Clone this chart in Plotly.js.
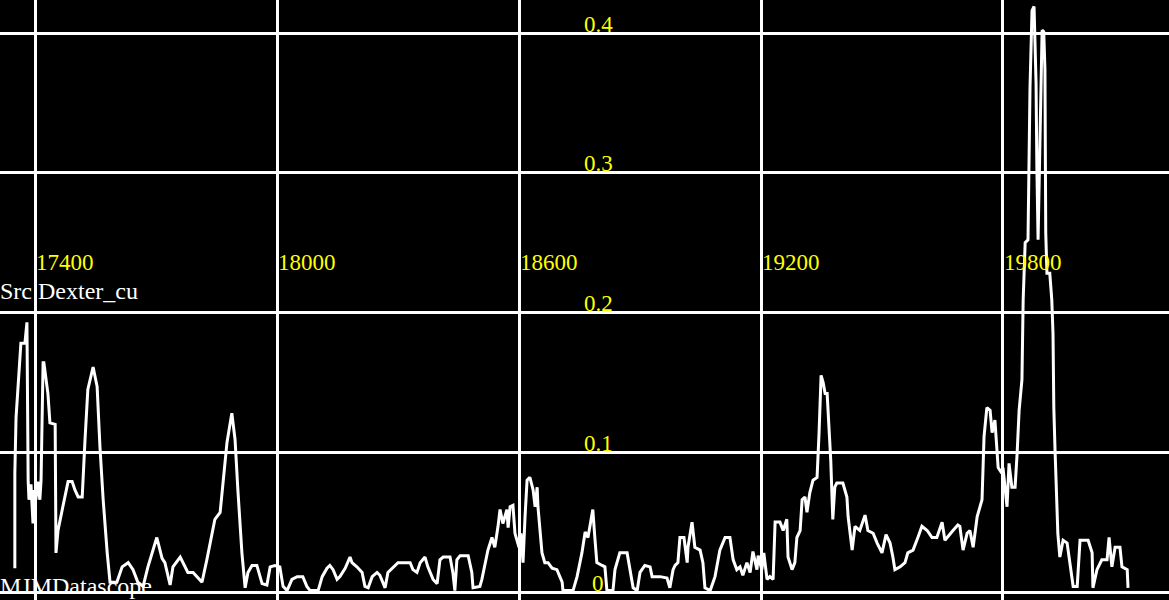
<!DOCTYPE html>
<html>
<head>
<meta charset="utf-8">
<script src="https://cdn.plot.ly/plotly-3.0.1.min.js"></script>
<style>
html,body{margin:0;padding:0;background:#000;}
#chart{width:1169px;height:600px;}
</style>
</head>
<body>
<div id="chart"></div>
<script>
// Tick values / labels
const xTickVals = [17400, 18000, 18600, 19200, 19800];
const xTickText = ['17400', '18000', '18600', '19200', '19800'];
const yTickVals = [0, 0.1, 0.2, 0.3, 0.4];
const yTickText = ['0', '0.1', '0.2', '0.3', '0.4'];

const seriesName = 'Src Dexter_cu';
const footerText = 'MJMDatascope';

// Series values (x = channel, y = value)
const xValues = [
17350,17350,17353,17358,17365,17375,17380,17383,17385,17390,17395,17398,17402,17407,17412,17415,17420,17422,17432,17437,
17450,17452,17457,17469,17482,17492,17499,17507,17517,17524,17531,17544,17554,17561,17569,17579,17586,17603,17616,17631,
17643,17655,17668,17680,17693,17702,17715,17722,17735,17742,17760,17772,17779,17792,17802,17814,17826,17839,17846,17859,
17866,17876,17888,17896,17903,17913,17921,17928,17938,17950,17963,17975,17983,17995,18007,18015,18025,18037,18050,18064,
18074,18082,18102,18112,18124,18131,18139,18149,18156,18169,18181,18186,18198,18211,18218,18226,18236,18248,18255,18263,
18268,18275,18288,18300,18317,18330,18337,18347,18355,18367,18374,18387,18397,18404,18412,18429,18436,18441,18446,18454,
18474,18483,18486,18503,18508,18523,18533,18540,18548,18553,18560,18570,18573,18578,18585,18590,18595,18600,18605,18610,
18615,18620,18627,18635,18640,18645,18647,18657,18664,18672,18682,18694,18707,18709,18734,18744,18756,18764,18771,18778,
18783,18788,18793,18806,18813,18818,18833,18838,18850,18868,18875,18883,18893,18900,18912,18925,18930,18950,18967,18974,
18982,18987,18994,18999,19009,19017,19019,19029,19036,19049,19056,19061,19074,19086,19098,19111,19123,19131,19140,19148,
19155,19165,19173,19180,19190,19193,19202,19207,19215,19222,19230,19235,19247,19255,19264,19267,19277,19284,19289,19297,
19302,19309,19314,19321,19329,19339,19344,19349,19354,19359,19364,19369,19371,19373,19378,19383,19388,19403,19413,19416,
19426,19433,19445,19458,19465,19478,19488,19500,19510,19520,19527,19532,19545,19557,19564,19577,19589,19599,19612,19624,
19636,19649,19656,19669,19676,19688,19693,19701,19711,19718,19726,19736,19748,19753,19760,19768,19773,19780,19785,19788,
19797,19800,19810,19815,19822,19830,19835,19840,19847,19850,19855,19862,19867,19872,19877,19882,19884,19887,19892,19897,
19901,19904,19906,19909,19916,19921,19924,19926,19929,19934,19936,19941,19949,19959,19966,19974,19984,19991,20011,20021,
20023,20033,20045,20058,20063,20070,20078,20090,20095,20108,20110
];
const yValues = [
0.017,0.085,0.125,0.145,0.178,0.178,0.193,0.080,0.066,0.077,0.049,0.073,0.066,0.079,0.066,0.080,0.164,0.164,0.142,0.121,
0.120,0.028,0.044,0.061,0.079,0.079,0.073,0.068,0.068,0.109,0.145,0.161,0.147,0.104,0.066,0.028,0.007,0.007,0.018,0.021,
0.016,0.007,0.004,0.018,0.030,0.039,0.024,0.021,0.005,0.018,0.025,0.018,0.014,0.014,0.011,0.007,0.023,0.042,0.052,0.057,
0.080,0.107,0.128,0.109,0.073,0.028,0.003,0.014,0.019,0.019,0.006,0.005,0.018,0.019,0.018,0.004,0.001,0.009,0.011,0.011,
0.004,0.001,0.001,0.011,0.017,0.019,0.016,0.009,0.011,0.017,0.025,0.021,0.018,0.014,0.004,0.003,0.011,0.014,0.012,0.007,
0.003,0.014,0.018,0.021,0.021,0.021,0.016,0.014,0.021,0.025,0.018,0.009,0.006,0.023,0.025,0.025,0.014,0.001,0.023,0.026,
0.026,0.014,0.003,0.004,0.009,0.030,0.039,0.032,0.047,0.059,0.049,0.059,0.046,0.061,0.062,0.042,0.037,0.032,0.042,0.021,
0.054,0.080,0.082,0.073,0.061,0.075,0.061,0.028,0.021,0.021,0.017,0.016,0.007,0.001,0.001,0.011,0.028,0.043,0.039,0.050,
0.059,0.039,0.021,0.019,0.018,0.001,0.001,0.016,0.028,0.028,0.016,0.003,0.001,0.014,0.019,0.018,0.011,0.011,0.010,0.003,
0.016,0.019,0.021,0.039,0.039,0.021,0.032,0.050,0.032,0.030,0.021,0.003,0.001,0.011,0.030,0.039,0.039,0.023,0.016,0.018,
0.012,0.021,0.014,0.029,0.016,0.026,0.016,0.028,0.009,0.011,0.009,0.050,0.050,0.044,0.052,0.025,0.016,0.021,0.039,0.044,
0.066,0.068,0.057,0.071,0.080,0.082,0.114,0.155,0.150,0.142,0.142,0.111,0.107,0.094,0.052,0.075,0.078,0.078,0.068,0.054,
0.030,0.047,0.044,0.055,0.044,0.042,0.035,0.028,0.041,0.035,0.025,0.016,0.018,0.021,0.028,0.030,0.039,0.047,0.044,0.039,
0.039,0.050,0.037,0.042,0.044,0.048,0.047,0.030,0.042,0.044,0.032,0.054,0.066,0.111,0.132,0.130,0.114,0.123,0.102,0.089,
0.085,0.089,0.061,0.092,0.075,0.075,0.099,0.130,0.152,0.209,0.250,0.252,0.361,0.416,0.419,0.364,0.304,0.252,0.328,0.402,
0.401,0.374,0.257,0.228,0.228,0.209,0.185,0.132,0.102,0.066,0.042,0.025,0.037,0.035,0.021,0.004,0.004,0.037,0.037,0.028,
0.003,0.016,0.023,0.023,0.039,0.018,0.032,0.032,0.018,0.016,0.003
];

const serif = '"Liberation Serif", "Times New Roman", serif';
const labelFont = {family: serif, size: 23, color: '#ffff00'};
const textFont = {family: serif, size: 24, color: '#ffffff'};

const annotations = [];
xTickVals.forEach((v, i) => {
  annotations.push({
    x: v, xref: 'x', y: 0.5633, yref: 'paper',
    text: xTickText[i], showarrow: false,
    xanchor: 'left', yanchor: 'middle', xshift: -1,
    font: labelFont
  });
});
yTickVals.forEach((v, i) => {
  annotations.push({
    x: 0.5118, xref: 'paper', y: v, yref: 'y',
    text: yTickText[i], showarrow: false,
    xanchor: 'center', yanchor: 'middle', yshift: 9,
    font: labelFont
  });
});
annotations.push({
  x: 0, xref: 'paper', y: 0.5133, yref: 'paper',
  text: seriesName, showarrow: false,
  xanchor: 'left', yanchor: 'middle', xshift: -2, yshift: 1,
  font: textFont
});
annotations.push({
  x: 0, xref: 'paper', y: 0.0, yref: 'paper',
  text: footerText, showarrow: false,
  xanchor: 'left', yanchor: 'bottom', xshift: -2, yshift: -1,
  font: textFont
});

const trace = {
  x: xValues, y: yValues,
  type: 'scatter', mode: 'lines',
  line: {color: '#ffffff', width: 3},
  hoverinfo: 'skip'
};

const layout = {
  width: 1169, height: 600,
  margin: {l: 0, r: 0, t: 0, b: 0, pad: 0},
  paper_bgcolor: '#000000',
  plot_bgcolor: '#000000',
  showlegend: false,
  xaxis: {
    range: [17313.2, 20211.6],
    tickmode: 'array', tickvals: xTickVals,
    showticklabels: false, ticks: '',
    showgrid: true, gridcolor: '#ffffff', gridwidth: 3,
    zeroline: false, showline: false, fixedrange: true
  },
  yaxis: {
    range: [-0.005725, 0.42361],
    tickmode: 'array', tickvals: yTickVals,
    showticklabels: false, ticks: '',
    showgrid: true, gridcolor: '#ffffff', gridwidth: 3,
    zeroline: false, showline: false, fixedrange: true
  },
  annotations: annotations
};

Plotly.newPlot('chart', [trace], layout, {displayModeBar: false, staticPlot: true});
</script>
</body>
</html>
